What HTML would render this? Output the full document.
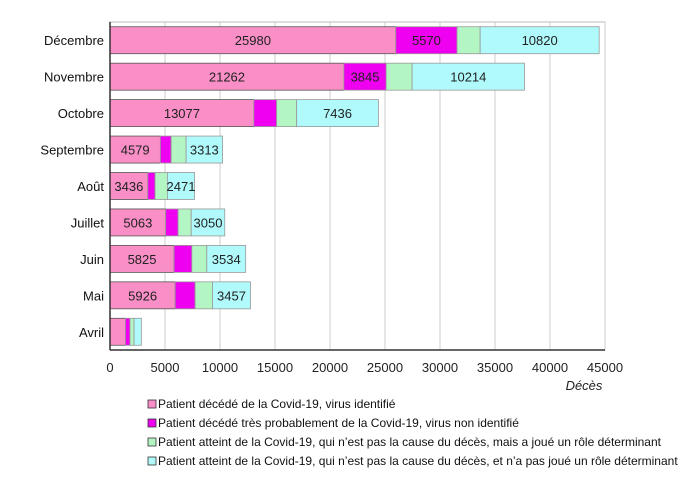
<!DOCTYPE html>
<html><head><meta charset="utf-8"><style>
body{margin:0;background:#fff;font-family:"Liberation Sans",Arial,sans-serif}
svg text{font-family:"Liberation Sans",Arial,sans-serif}
</style></head><body>
<svg width="684" height="489" id="c">
<g id="grid"></g><g id="bars"></g><g id="axes"></g><g id="legend"></g>
</svg>
<script>
const months=["Décembre","Novembre","Octobre","Septembre","Août","Juillet","Juin","Mai","Avril"];
const identified=[25980,21262,13077,4579,3436,5063,5825,5926,1400];
const probable=[5570,3845,2070,980,660,1130,1615,1810,420];
const determinant=[2100,2360,1820,1360,1120,1190,1360,1580,370];
const notDeterminant=[10820,10214,7436,3313,2471,3050,3534,3457,660];
const ticks=[0,5000,10000,15000,20000,25000,30000,35000,40000,45000];
const seriesNames=["Patient décédé de la Covid-19, virus identifié","Patient décédé très probablement de la Covid-19, virus non identifié","Patient atteint de la Covid-19, qui n’est pas la cause du décès, mais a joué un rôle déterminant","Patient atteint de la Covid-19, qui n’est pas la cause du décès, et n’a pas joué un rôle déterminant"];
const labelShown=[[1,1,0,1],[1,1,0,1],[1,0,0,1],[1,0,0,1],[1,0,0,1],[1,0,0,1],[1,0,0,1],[1,0,0,1],[0,0,0,0]];
const colors=["#f98fc6","#f000f0","#b4f5c4","#b0fafc"];
const NS="http://www.w3.org/2000/svg";
const X0=110,X1=605,Y0=22,Y1=350;
const x=v=>X0+v/45000*(X1-X0);
const band=(Y1-Y0)/months.length;
const yc=i=>Y0+band*(i+0.5);
function el(t,a,p,txt){const e=document.createElementNS(NS,t);for(const k in a)e.setAttribute(k,a[k]);if(txt!=null)e.textContent=txt;document.getElementById(p).appendChild(e);return e;}
let f=el('rect',{x:X0,y:Y0,width:X1-X0,height:Y1-Y0,fill:'none',stroke:'#bbb'},'grid');

ticks.forEach(t=>{if(t>0){let g=el('line',{x1:x(t),x2:x(t),y1:Y0,y2:Y1,stroke:'#ccc'},'grid');
}
let tl=el('text',{x:x(t),y:372,'text-anchor':'middle','font-size':13,fill:'#222'},'axes',t);
});
let ax=el('line',{x1:X0,x2:X1,y1:Y1,y2:Y1,stroke:'#333','stroke-width':1.5},'axes');

let ay=el('line',{x1:X0,x2:X0,y1:Y0,y2:Y1,stroke:'#333','stroke-width':1.5},'axes');

let xt=el('text',{x:584,y:390,'text-anchor':'middle','font-size':13,'font-style':'italic',fill:'#222'},'axes','Décès');

const series=[identified,probable,determinant,notDeterminant];
months.forEach((m,i)=>{
 let ml=el('text',{x:104,y:yc(i)+5,'text-anchor':'end','font-size':13,fill:'#111'},'axes',m);
 
 let acc=0;
 series.forEach((s,k)=>{
  const v=s[i];
  let r=el('rect',{x:x(acc),y:yc(i)-13.5,width:x(acc+v)-x(acc),height:27,fill:colors[k],stroke:k==0?'#555':'#999','stroke-width':0.8},'bars');
  
  if(labelShown[i][k]){let t=el('text',{x:(x(acc)+x(acc+v))/2,y:yc(i)+5,'text-anchor':'middle','font-size':13,fill:'#222'},'bars',v);
   }
  acc+=v;});
});
seriesNames.forEach((n,k)=>{
 const y=404+k*19;
 let b=el('rect',{x:148,y:y-4,width:8,height:8,fill:colors[k],stroke:'#333','stroke-width':0.8},'legend');
 
 let t=el('text',{x:158,y:y+4,'font-size':12,fill:'#111'},'legend',n);
 
});
</script>
</body></html>
